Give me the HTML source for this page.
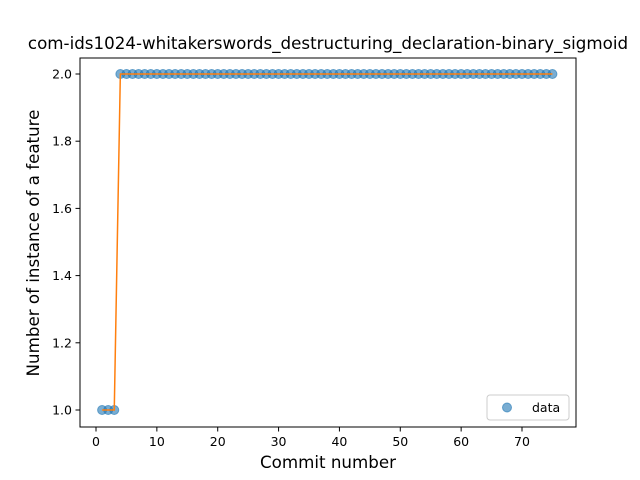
<!DOCTYPE html>
<html><head><meta charset="utf-8"><style>
body{margin:0;background:#fff;}
svg{display:block;font-family:"DejaVu Sans","Liberation Sans",sans-serif;}
</style></head><body>
<svg id="chart" width="640" height="480" viewBox="0 0 640 480">
<rect width="640" height="480" fill="#fff"/>
<text x="328" y="49" text-anchor="middle" font-size="16.7">com-ids1024-whitakerswords_destructuring_declaration-binary_sigmoid</text>
<g id="plot"></g>
<rect x="80" y="58" width="496" height="369" fill="none" stroke="#000" stroke-width="1"/>
<text x="328" y="468" text-anchor="middle" font-size="16.7">Commit number</text>
<text transform="translate(39,243) rotate(-90)" text-anchor="middle" font-size="16.7">Number of instance of a feature</text>
<g>
<rect x="487" y="395" width="82" height="25" rx="3" fill="#fff" stroke="#ccc"/>
<circle cx="507" cy="407.5" r="4.5" fill="#1f77b4" fill-opacity="0.6" stroke="#1f77b4" stroke-opacity="0.6"/>
<text x="532" y="412" font-size="12.5">data</text>
</g>
</svg>
<script>
const commits = Array.from({length:75},(_,i)=>i+1);
const values = [1,1,1,2,2,2,2,2,2,2,2,2,2,2,2,2,2,2,2,2,2,2,2,2,2,2,2,2,2,2,2,2,2,2,2,2,2,2,2,2,2,2,2,2,2,2,2,2,2,2,2,2,2,2,2,2,2,2,2,2,2,2,2,2,2,2,2,2,2,2,2,2,2,2,2];
const fitValues = values.slice();
const xTicks = [0,10,20,30,40,50,60,70];
const yTicks = [1.0,1.2,1.4,1.6,1.8,2.0];

const NS="http://www.w3.org/2000/svg";
const X = v => 96 + v*(522-96)/70;
const Y = v => 410 - (v-1)*(410-74);
const plot = document.getElementById('plot');
function mk(t,a){const e=document.createElementNS(NS,t);for(const k in a)e.setAttribute(k,a[k]);plot.appendChild(e);return e;}

xTicks.forEach(t=>{
  const l=mk('line',{x1:X(t),x2:X(t),y1:427,y2:431.5,stroke:'#000'});
  
  
  const tx=mk('text',{x:X(t),y:446,'text-anchor':'middle','font-size':'12.5'});
  tx.textContent=t;
  
  
});
yTicks.forEach(t=>{
  const l=mk('line',{x1:75.5,x2:80,y1:Y(t),y2:Y(t),stroke:'#000'});
  
  
  const tx=mk('text',{x:72,y:Y(t)+4.5,'text-anchor':'end','font-size':'12.5'});
  tx.textContent=t.toFixed(1);
  
  
});
commits.forEach((c,i)=>{
  const p=mk('circle',{cx:X(c),cy:Y(values[i]),r:4.5,fill:'#1f77b4','fill-opacity':0.6,stroke:'#1f77b4','stroke-opacity':0.6});
  
  
});
const line=mk('polyline',{points:commits.map((c,i)=>X(c)+','+Y(fitValues[i])).join(' '),fill:'none',stroke:'#ff7f0e','stroke-width':1.5});


</script>
</body></html>
